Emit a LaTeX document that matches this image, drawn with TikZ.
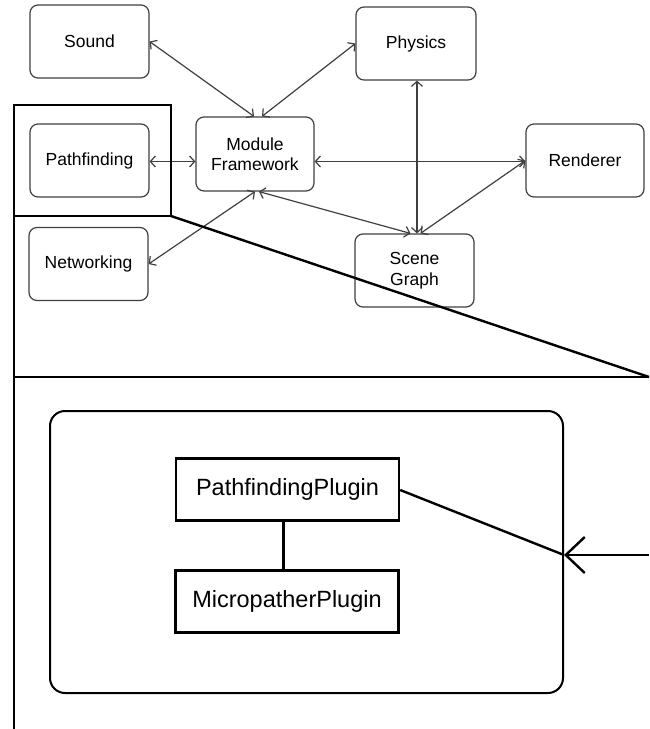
\documentclass[tikz,border=0pt]{standalone}
\usepackage{fontspec}
\setmainfont{Liberation Sans}
\usetikzlibrary{arrows.meta,calc}
\begin{document}
\begin{tikzpicture}[x=1pt,y=-1pt,
  module/.style={draw=black!75,line width=1.2pt,rounded corners=8pt,fill=white,
    minimum width=119pt,minimum height=73pt,inner sep=0pt,align=center,
    font=\fontsize{17.5}{20.5}\selectfont},
  link/.style={draw=black!75,line width=1.2pt,
    {Straight Barb[length=5pt,width=11pt]}-{Straight Barb[length=5pt,width=11pt]}},
  callout/.style={draw=black,line width=2.4pt},
  plugin/.style={draw=black,line width=2.4pt,minimum width=223pt,minimum height=62pt,
    inner sep=0pt,font=\fontsize{23.5}{26}\selectfont},
]
\useasboundingbox[fill=white] (0,0) rectangle (649,729);

% module nodes
\node[module] (snd) at (89.5,41.5) {Sound};
\node[module,minimum width=120pt] (phy) at (416,43.5) {Physics};
\node[module] (pf) at (89.5,160.5) {Pathfinding};
\node[module,minimum width=118pt,minimum height=74pt] (mf) at (255,154) {Module\\Framework};
\node[module,minimum width=118pt] (rnd) at (585,160.5) {Renderer};
\node[module] (net) at (88.5,264) {Networking};
\node[module] (scn) at (414.5,270.5) {Scene\\Graph};

% connectors between modules
\draw[link] (snd.east) -- ([xshift=-1pt]mf.north);
\draw[link] (phy.west) -- ([xshift=7pt]mf.north);
\draw[link] ([yshift=-1pt]pf.east) -- ([yshift=-1pt]pf.east -| mf.west);
\draw[link] ([yshift=-1pt]mf.east |- rnd.west) -- ([yshift=-1pt]rnd.west);
\draw[link] (net.east) -- ([xshift=0pt]mf.south);
\draw[link] ([xshift=4pt]mf.south) -- ([xshift=-4pt]scn.north);
\draw[link] ([xshift=1pt]phy.south) -- ([xshift=1pt]phy.south |- scn.north);
\draw[link] (rnd.west) -- ([xshift=6pt]scn.north);

% callout from the Pathfinding module to its detail view
\coordinate (hlA) at (14,105);
\coordinate (hlB) at (171,216);
\coordinate (detTL) at (14,377);
\coordinate (detTR) at (649,377);
\coordinate (detBL) at (14,729);
\draw[callout] (hlA) rectangle (hlB);
\draw[callout] (hlA |- hlB) -- (detBL);
\draw[callout] (hlB) -- (detTR);
\draw[callout] (detTL) -- (detTR);

% detail view
\node[draw=black,line width=2pt,rounded corners=15pt,minimum width=513pt,minimum height=282pt,inner sep=0pt]
  (pkg) at (306.5,552) {};
\node[plugin] (pp) at (287.5,489.5) {PathfindingPlugin};
\node[plugin] (mp) at (287,601.5) {MicropatherPlugin};
\draw[line width=2.4pt] (pp.south -| 283.5,0) -- (mp.north -| 283.5,0);
\coordinate (dock) at (pkg.east |- 0,555);
\coordinate (edge) at (649,555);
\draw[line width=2.4pt] ([yshift=-0.5pt]pp.east) -- (dock);
\draw[line width=2.4pt,-{Straight Barb[length=19pt,width=36pt,line width=2.4pt]}] (edge) -- (dock);
\end{tikzpicture}
\end{document}
